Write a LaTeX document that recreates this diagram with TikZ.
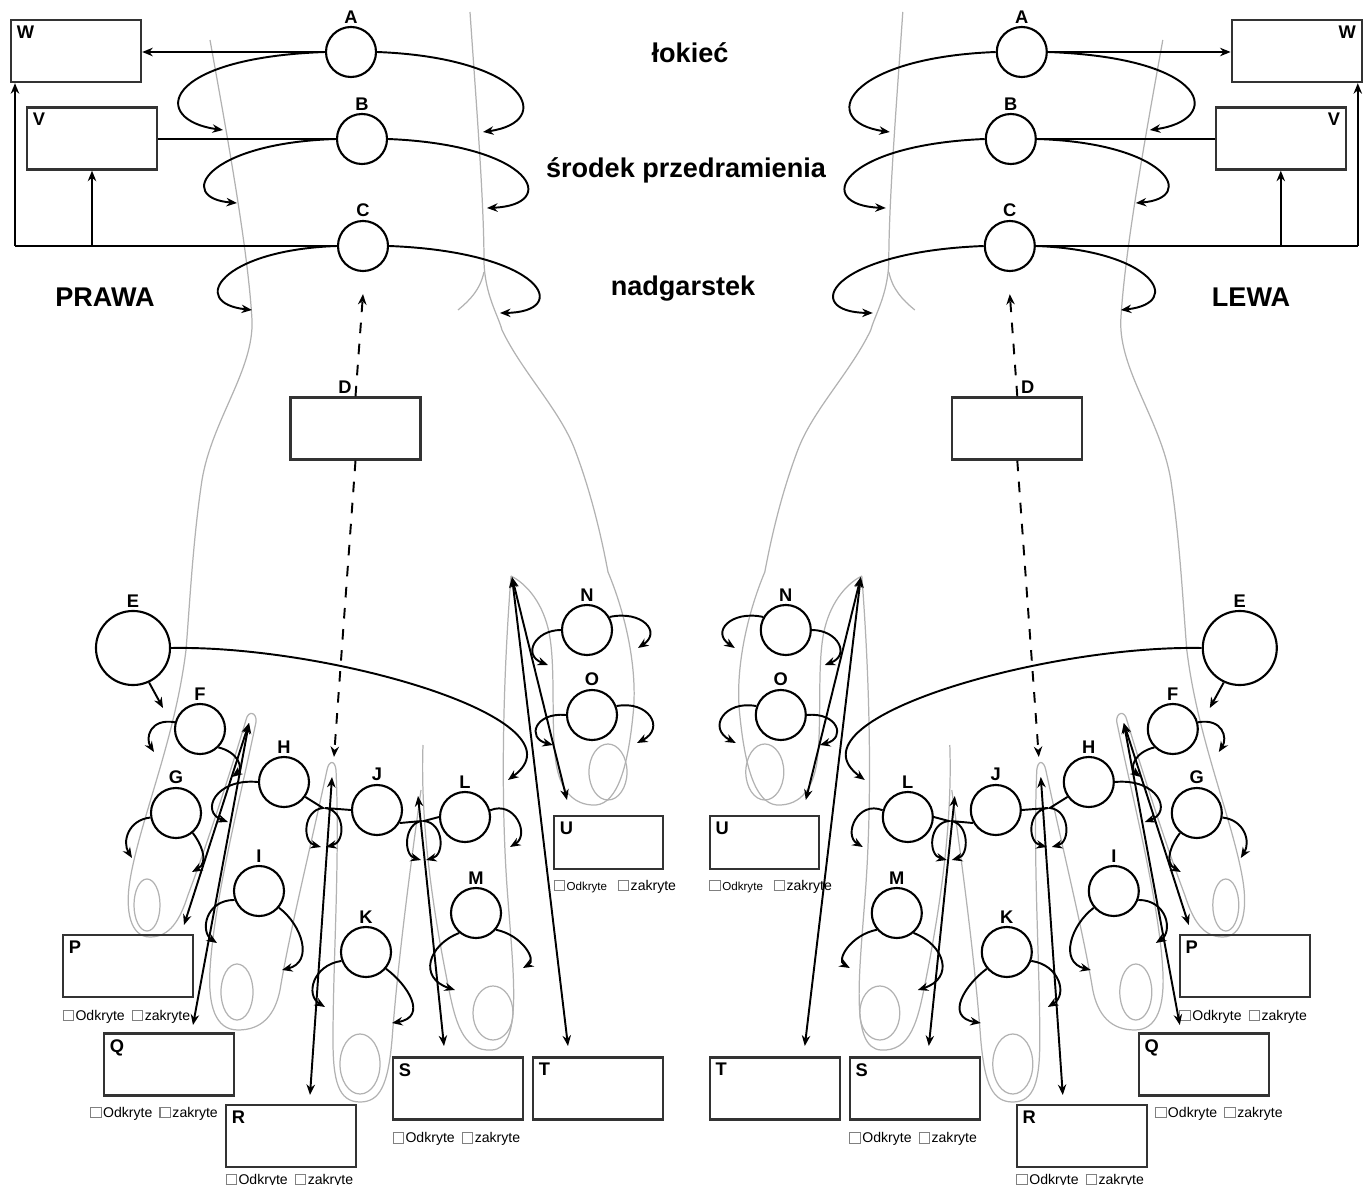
\documentclass[tikz,border=0pt]{standalone}
\usepackage{fontspec}
\setmainfont{Liberation Sans}
\usetikzlibrary{arrows.meta}

\newcommand\an[1]{\the\numexpr90+\sd*(#1-90)\relax}
\newcommand\chk{{\color{gray}\setlength{\fboxsep}{0pt}\setlength{\fboxrule}{0.3pt}\fbox{\rule{0pt}{2.7pt}\rule{2.7pt}{0pt}}}\hspace{0.4pt}}

\begin{document}
\begin{tikzpicture}[x=0.01cm, y=-0.01cm, >={Stealth[length=3pt,width=2.4pt]},
  circ/.style={draw, circle, line width=0.6pt, minimum size=0.5cm, inner sep=0pt},
  bigcirc/.style={circ, minimum size=0.74cm},
  lab/.style={font=\fontsize{5.2}{6}\selectfont\bfseries, inner sep=0.6pt},
  box/.style={draw=black!80, line width=0.65pt, minimum width=1.3cm, minimum height=0.62cm, inner sep=0pt},
  chks/.style={font=\fontsize{4}{5}\selectfont, inner sep=0pt, anchor=north west},
  arr/.style={line width=0.55pt, ->},
  dbl/.style={line width=0.55pt, <->},
  skin/.style={black!30, line width=0.35pt},
  big/.style={font=\fontsize{7.7}{9}\selectfont\bfseries}]
\useasboundingbox (0,0) rectangle (1366,1185);

% middle texts
\node[big] (elbow) at (690,53) {łokieć};
\node[big] (midarm) at (686,170) {środek przedramienia};
\node[big] (wrist) at (683,289) {nadgarstek};
\node[big] (rightH) at (105,297) {PRAWA};
\node[big] (leftH) at (1251,297) {LEWA};

\foreach \sd/\shx/\nm/\crn in {1/0cm/r/west,-1/13.72cm/l/east}{
\begin{scope}[xshift=\shx, xscale=\sd, name prefix=\nm-]
% outline of the arm and hand
\draw[skin] (210,40) .. controls (228,140) and (248,250) .. (252,320) .. controls (254,370) and (212,420) .. (202,480) .. controls (193,540) and (190,600) .. (186,650);
\draw[skin] (470,12) .. controls (476,100) and (484,200) .. (484,262) .. controls (485,295) and (498,315) .. (502,330) .. controls (522,372) and (560,410) .. (575,450) .. controls (592,495) and (602,540) .. (608,572);
\draw[skin] (484,272) .. controls (480,290) and (470,300) .. (458,310);
\draw[skin] (608,572) .. controls (626,615) and (638,670) .. (633,715) .. controls (628,765) and (618,803) .. (596,805) .. controls (572,806) and (558,788) .. (555,755) .. controls (551,715) and (556,660) .. (548,628) .. controls (541,600) and (525,583) .. (511,576);
\draw[skin] (511,576) .. controls (503,680) and (500,800) .. (508,900) .. controls (514,980) and (522,1048) .. (492,1050) .. controls (462,1052) and (455,1020) .. (448,985) .. controls (435,920) and (420,830) .. (423,745);
\draw[skin] (421,790) .. controls (410,870) and (398,960) .. (392,1040) .. controls (388,1085) and (380,1102) .. (360,1102) .. controls (338,1102) and (333,1080) .. (333,1040) .. controls (333,960) and (340,860) .. (336,770) .. controls (335,760) and (329,760) .. (327,770);
\draw[skin] (327,770) .. controls (310,850) and (290,930) .. (280,990) .. controls (275,1015) and (262,1030) .. (238,1030) .. controls (215,1030) and (208,1005) .. (210,970) .. controls (214,900) and (240,800) .. (256,722) .. controls (257,712) and (248,710) .. (246,720);
\draw[skin] (246,720) .. controls (228,780) and (205,850) .. (188,895) .. controls (180,920) and (170,937) .. (150,937) .. controls (130,937) and (125,910) .. (130,880) .. controls (140,820) and (175,740) .. (186,650);
\draw[skin] (147,905) ellipse [x radius=0.13cm, y radius=0.26cm];
\draw[skin] (237,992) ellipse [x radius=0.16cm, y radius=0.28cm];
\draw[skin] (360,1064) ellipse [x radius=0.2cm, y radius=0.3cm];
\draw[skin] (493,1013) ellipse [x radius=0.2cm, y radius=0.27cm];
\draw[skin] (608,772) ellipse [x radius=0.19cm, y radius=0.28cm];

% forearm
\node[box] (W) at (76,51) {};
\node[box] (V) at (92,138.5) {};
\node[lab, inner sep=1.8pt, anchor=north \crn] (Wl) at (W.north \crn) {W};
\node[lab, inner sep=1.8pt, anchor=north \crn] (Vl) at (V.north \crn) {V};
\node[circ, label={[lab]above:A}] (A) at (351,52) {};
\node[circ, label={[lab]above:B}] (B) at (362,139) {};
\node[circ, label={[lab]above:C}] (C) at (363,246) {};
\coordinate (cw) at (15,246);
\draw[arr] (A) -- (A -| W.\an{0});
\draw[line width=0.55pt] (B) -- (B -| V.\an{0});
\draw[line width=0.55pt] (C) -- (cw);
\draw[arr] (cw) -- (cw |- W.south);
\draw[arr] (V.south |- cw) -- (V.south);
\draw[arr] (A.\an{180}) .. controls (160,58) and (150,120) .. (223,130);
\draw[arr] (A.\an{0}) .. controls (530,58) and (555,122) .. (483,132);
\draw[arr] (B.\an{180}) .. controls (205,143) and (175,198) .. (237,203);
\draw[arr] (B.\an{0}) .. controls (535,145) and (560,205) .. (487,208);
\draw[arr] (C.\an{180}) .. controls (220,250) and (188,303) .. (252,310);
\draw[arr] (C.\an{0}) .. controls (545,252) and (572,312) .. (500,313);

% hand
\node[box] (D) at (355.5,428.5) {};
\node[lab] (Dl) at (345,387) {D};
\coordinate (dtip) at (334,757);
\draw[arr, dashed] (D.north) -- ([yshift=-0.22cm]C.south);
\draw[arr, dashed] (D.south) -- (dtip);

\node[bigcirc, label={[lab]above:E}] (E) at (133,648) {};
\node[circ, label={[lab]above:F}] (F) at (200,729) {};
\node[circ, label={[lab]above:G}] (G) at (176,813) {};
\node[circ, label={[lab]above:H}] (H) at (284,782) {};
\node[circ, label={[lab]above:I}] (I) at (259,891) {};
\node[circ, label={[lab]above:J}] (J) at (377,810) {};
\node[circ, label={[lab]above:K}] (K) at (366,952) {};
\node[circ, label={[lab]above:L}] (L) at (465,817) {};
\node[circ, label={[lab]above:M}] (M) at (476,913) {};
\node[circ, label={[lab]above:N}] (N) at (587,630) {};
\node[circ, label={[lab]above:O}] (O) at (592,715) {};

\draw[arr] (E.\an{-65}) -- (163,708);
\draw[arr] (E.\an{0}) .. controls (330,645) and (590,720) .. (508,780);
\draw[arr] (F.\an{165}) .. controls (150,718) and (145,738) .. (154,752);
\draw[arr] (F.\an{-45}) .. controls (238,752) and (244,768) .. (232,777);
\draw[arr] (G.\an{190}) .. controls (128,820) and (122,842) .. (132,858);
\draw[arr] (G.\an{-50}) .. controls (200,842) and (210,862) .. (192,872);
\draw[arr] (H.\an{180}) .. controls (215,778) and (200,812) .. (228,822);
\draw[arr] (H.\an{-35}) -- (323,808) .. controls (303,810) and (302,842) .. (321,847);
\draw[arr] (J.\an{180}) -- (325,808) .. controls (345,810) and (346,842) .. (326,847);
\draw[arr] (J.\an{-30}) -- (422,821) .. controls (404,823) and (403,855) .. (421,860);
\draw[arr] (L.\an{180}) -- (424,821) .. controls (444,823) and (445,855) .. (426,860);
\draw[arr] (L.\an{15}) .. controls (515,800) and (530,835) .. (510,847);
\draw[arr] (I.\an{200}) .. controls (205,900) and (200,932) .. (217,943);
\draw[arr] (I.\an{-40}) .. controls (302,925) and (314,962) .. (282,970);
\draw[arr] (K.\an{200}) .. controls (313,965) and (305,995) .. (325,1007);
\draw[arr] (K.\an{-40}) .. controls (408,985) and (428,1017) .. (392,1023);
\draw[arr] (M.\an{230}) .. controls (428,945) and (418,978) .. (455,990);
\draw[arr] (M.\an{-40}) .. controls (522,935) and (537,960) .. (523,968);
\draw[arr] (N.\an{180}) .. controls (535,630) and (522,655) .. (548,665);
\draw[arr] (N.\an{30}) .. controls (642,610) and (662,632) .. (638,648);
\draw[arr] (O.\an{180}) .. controls (535,712) and (526,738) .. (553,745);
\draw[arr] (O.\an{20}) .. controls (648,700) and (666,728) .. (637,743);

% boxes under the fingers
\node[box] (P) at (128,966) {};
\node[box] (Q) at (169,1064.5) {};
\node[box] (R) at (291,1136) {};
\node[box] (S) at (458,1088.5) {};
\node[box] (T) at (598,1088.5) {};
\node[box, minimum width=1.09cm, minimum height=0.53cm] (U) at (608.5,842.5) {};
\foreach \b in {P,Q,R,S,T,U}
  \node[lab, inner sep=1.8pt, anchor=north west] (\b l) at (\b.north west) {\b};
\foreach \b in {P,S}
  \node[chks] (\b c) at ([yshift=-0.11cm]\b.south west) {\chk Odkryte\hspace{2pt}\chk zakryte};
\coordinate (qt) at (154,1106);
\node[chks, anchor=north] (Qc) at (qt) {\chk Odkryte\hspace{2pt}\chk zakryte};
\node[chks] (Rc) at ([yshift=-0.05cm]R.south west) {\chk Odkryte\hspace{2pt}\chk zakryte};
\node[chks] (Uc) at ([yshift=-0.09cm]U.south west) {\chk{\fontsize{3.3}{4}\selectfont Odkryte}\hspace{3pt}\chk zakryte};

\coordinate (gapPQ) at (249,723);
\coordinate (gapR) at (332,777);
\coordinate (gapS) at (418,796);
\coordinate (thumb) at (512,577);
\coordinate (tP) at (184,925);
\coordinate (tQ) at (193,1025);
\coordinate (tR) at (310,1095);
\coordinate (tS) at (444,1046);
\coordinate (tT) at (568,1046);
\coordinate (tU) at (567,800);
\draw[dbl] (gapPQ) -- (tP);
\draw[dbl] (gapPQ) -- (tQ);
\draw[dbl] (gapR) -- (tR);
\draw[dbl] (gapS) -- (tS);
\draw[dbl] (thumb) -- (tU);
\draw[dbl] (thumb) -- (tT);
\end{scope}
}
\end{tikzpicture}
\end{document}
